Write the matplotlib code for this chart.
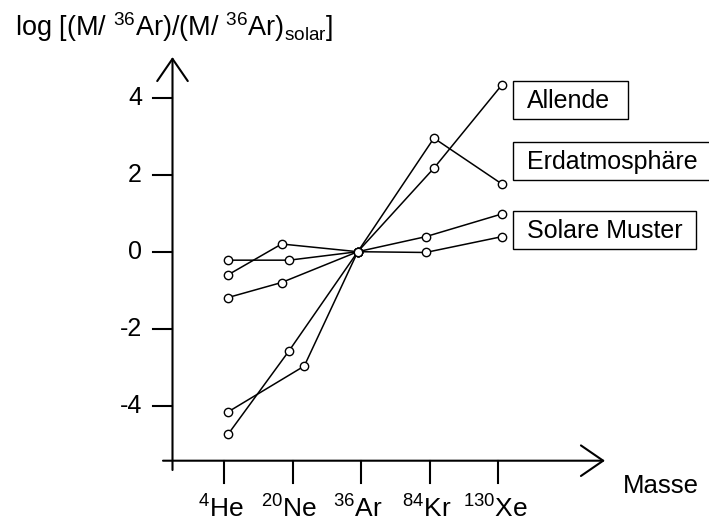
import matplotlib
matplotlib.use("Agg")
import matplotlib.pyplot as plt
from matplotlib.patches import Rectangle

plt.rcParams['font.family'] = ['Liberation Sans', 'DejaVu Sans']
plt.rcParams['mathtext.fontset'] = 'custom'
plt.rcParams['mathtext.rm'] = 'Liberation Sans'
plt.rcParams['mathtext.it'] = 'Liberation Sans'

# isotopes on the x axis (position 1..5)
elements = ['He', 'Ne', 'Ar', 'Kr', 'Xe']
masses = ['4', '20', '36', '84', '130']
yticks = [-4, -2, 0, 2, 4]

# log abundance ratios, normalised to 36Ar
allende_x = [1.06, 1.95, 2.95, 4.06, 5.05]
allende_y = [-4.74, -2.57, 0.0, 2.17, 4.33]

erd_x = [1.06, 2.17, 2.95, 4.06, 5.05]
erd_y = [-4.16, -2.97, 0.0, 2.95, 1.76]

solar1_x = [1.06, 1.95, 2.95, 3.94, 5.05]
solar1_y = [-0.22, -0.22, 0.0, -0.02, 0.39]

solar2_x = [1.06, 1.84, 2.95, 3.94, 5.05]
solar2_y = [-0.60, 0.20, 0.0, 0.39, 0.98]

solar3_x = [1.06, 1.84, 2.95]
solar3_y = [-1.19, -0.80, 0.0]

labels = ['Allende', 'Erdatmosphäre', 'Solare Muster']

W, H = 709, 526
fig = plt.figure(figsize=(W / 100, H / 100), dpi=100)
ax = fig.add_axes([0, 0, 1, 1])
ax.axis('off')

# pixel layout of the hand-drawn axes
x0_px, dx_px = 224.0, 68.6      # He tick, spacing between isotopes
y0_px, dy_px = 251.7, 38.5      # y=0, pixels per unit


def px(x):
    return 1 + (x - x0_px) / dx_px


def py(y):
    return (y0_px - y) / dy_px


ax.set_xlim(px(0), px(W))
ax.set_ylim(py(H), py(0))

style = dict(color='black', lw=1.1, marker='o', ms=6, mfc='white',
             mec='black', mew=1.0)
for xs, ys in [(allende_x, allende_y), (erd_x, erd_y), (solar1_x, solar1_y),
               (solar2_x, solar2_y), (solar3_x, solar3_y)]:
    ax.plot(xs, ys, **style, zorder=3)

axis_lw = 1.5
x_axis_y = py(460.7)
y_axis_x = px(172.5)

# axes with open arrow heads
arrow = dict(arrowstyle='->,head_length=0.8,head_width=0.55', lw=axis_lw,
             color='black', mutation_scale=20, shrinkA=0, shrinkB=0)
ax.annotate('', xy=(px(605), x_axis_y), xytext=(px(163), x_axis_y),
            arrowprops=arrow)
ax.annotate('', xy=(y_axis_x, py(57)), xytext=(y_axis_x, py(470)),
            arrowprops=arrow)

# x ticks and isotope labels
for i, (el, m) in enumerate(zip(elements, masses)):
    xi = i + 1
    ax.plot([xi, xi], [x_axis_y, py(483)], color='black', lw=axis_lw)
    ax.text(xi - 0.05, py(518), r'$^{%s}$%s' % (m, el), ha='center',
            va='baseline', fontsize=19)

# y ticks and labels
for t in yticks:
    ax.plot([px(153), y_axis_x], [t, t], color='black', lw=axis_lw)
    ax.text(px(142), t, str(t), ha='right', va='center', fontsize=18)

ax.text(px(623), py(492.5), 'Masse', ha='left', va='baseline', fontsize=18.5)
ax.text(px(15), py(36), r'log [(M/ $^{36}$Ar)/(M/ $^{36}$Ar)$_{\rm solar}$]',
        ha='left', va='baseline', fontsize=19.5)

# series labels in boxes
boxes = [(81, 627.7), (141.7, 720), (210.7, 696)]
for label, (top, right) in zip(labels, boxes):
    bottom = top + 38.3
    ax.add_patch(Rectangle((px(512.7), py(bottom)), px(right) - px(512.7),
                           py(top) - py(bottom), fc='white', ec='black',
                           lw=1.0, clip_on=False))
    ax.text(px(526.7), py((top + bottom) / 2 + 1), label, ha='left',
            va='center', fontsize=18)

fig.savefig('out.png', dpi=100)
